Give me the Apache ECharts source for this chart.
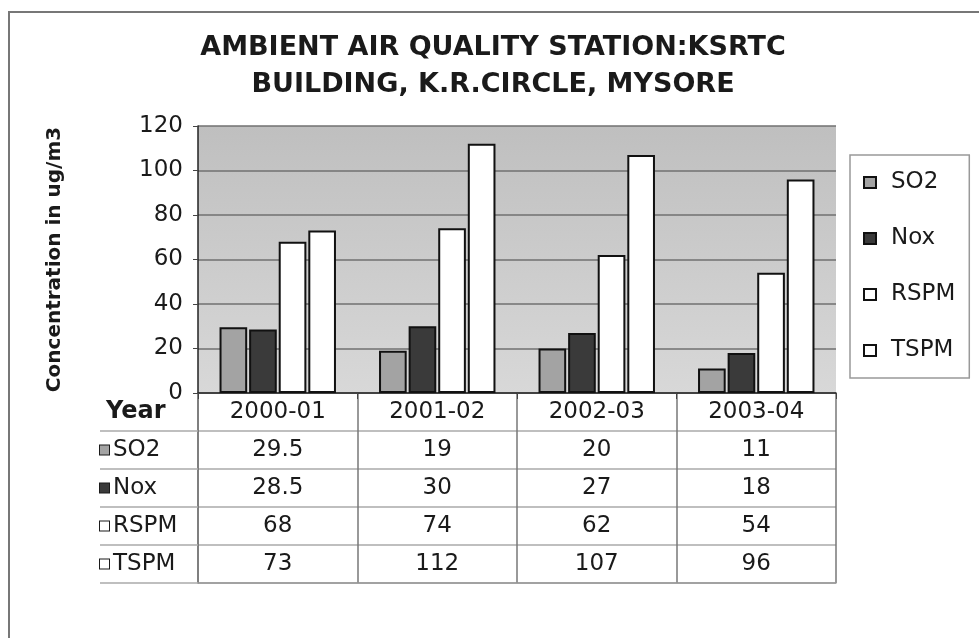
<!DOCTYPE html>
<html>
<head>
<meta charset="utf-8">
<title>Ambient Air Quality Station: KSRTC Building, K.R.Circle, Mysore</title>
<script src="https://cdn.jsdelivr.net/npm/echarts@6/dist/echarts.min.js"></script>
<style>
  html, body { margin: 0; padding: 0; background: #fff; }
  #chart { width: 979px; height: 638px; }
</style>
</head>
<body>
<div id="chart"></div>
<script>
var years = ["2000-01", "2001-02", "2002-03", "2003-04"];
var seriesNames = ["SO2", "Nox", "RSPM", "TSPM"];
var so2 = [29.5, 19, 20, 11];
var nox = [28.5, 30, 27, 18];
var rspm = [68, 74, 62, 54];
var tspm = [73, 112, 107, 96];
var rowLabels = ["Year", "SO2", "Nox", "RSPM", "TSPM"];
var yTicks = [0, 20, 40, 60, 80, 100, 120];

var font = "DejaVu Sans";
var ink = "#1a1a1a";
var fills = ["#a3a3a3", "#3a3a3a", "#ffffff", "#ffffff"];
var values = [so2, nox, rspm, tspm];

// cells of the data table: header row, then one row per pollutant
var cells = [];
years.forEach(function (y, i) {
  cells.push([i, 0, y]);
  values.forEach(function (arr, s) {
    cells.push([i, s + 1, arr[i]]);
  });
});

// rich styles for the little key boxes in the table row labels
var rowRich = {
  yr: { fontFamily: font, fontWeight: "bold", fontSize: 24, color: ink, padding: [0, 0, 0, 6] },
  t: { fontFamily: font, fontSize: 23, color: ink, padding: [0, 0, 0, 4] }
};
fills.forEach(function (c, i) {
  rowRich["k" + i] = { width: 9, height: 9, backgroundColor: c, borderColor: ink, borderWidth: 1 };
});

var chart = echarts.init(document.getElementById("chart"));

var barSeries = seriesNames.map(function (name, s) {
  return {
    name: name,
    type: "bar",
    xAxisIndex: 0,
    yAxisIndex: 0,
    barCategoryGap: "27%",
    barGap: "7%",
    itemStyle: { color: fills[s], borderColor: "#111", borderWidth: 2 },
    data: values[s]
  };
});

var option = {
  backgroundColor: "#fff",
  animation: false,
  title: {
    text: "AMBIENT AIR QUALITY STATION:KSRTC\nBUILDING, K.R.CIRCLE, MYSORE",
    left: 493,
    top: 29,
    padding: 0,
    textAlign: "center",
    textStyle: { fontFamily: font, fontWeight: "bold", fontSize: 27, lineHeight: 37, color: ink }
  },
  legend: {
    data: seriesNames,
    orient: "vertical",
    left: 850,
    top: 155,
    icon: "rect",
    itemWidth: 12,
    itemHeight: 11,
    itemGap: 33,
    padding: [16, 14, 16, 13],
    borderColor: "#999",
    borderWidth: 1.5,
    backgroundColor: "#fff",
    textStyle: { fontFamily: font, fontSize: 23, color: ink, padding: [0, 0, 0, 10] }
  },
  graphic: [
    {
      type: "rect",
      shape: { x: 9, y: 12, width: 1000, height: 700 },
      style: { fill: "none", stroke: "#777", lineWidth: 2 },
      silent: true
    }
  ],
  grid: [
    {
      left: 198, top: 126, width: 638, height: 267,
      show: true, borderWidth: 0,
      backgroundColor: new echarts.graphic.LinearGradient(0, 0, 0, 1, [
        { offset: 0, color: "#bfbfbf" },
        { offset: 1, color: "#d8d8d8" }
      ])
    },
    { left: 198, top: 393, width: 638, height: 190 }
  ],
  xAxis: [
    {
      gridIndex: 0,
      type: "category",
      data: years,
      axisLine: { lineStyle: { color: "#222", width: 1.5 } },
      axisTick: { show: true, length: 6, lineStyle: { color: "#444" } },
      axisLabel: { show: false }
    },
    {
      gridIndex: 1,
      type: "category",
      data: years,
      axisLine: { show: true, lineStyle: { color: "#999", width: 1.5 } },
      axisTick: { show: false },
      axisLabel: { show: false },
      splitLine: { show: true, lineStyle: { color: "#777", width: 1.5 } }
    }
  ],
  yAxis: [
    {
      gridIndex: 0,
      type: "value",
      min: yTicks[0],
      max: yTicks[yTicks.length - 1],
      interval: 20,
      name: "Concentration in ug/m3",
      nameLocation: "middle",
      nameGap: 133,
      nameTextStyle: { fontFamily: font, fontWeight: "bold", fontSize: 20, color: ink },
      axisLine: { show: true, lineStyle: { color: "#222", width: 1.5 } },
      axisTick: { show: true, length: 5, lineStyle: { color: "#444" } },
      axisLabel: { fontFamily: font, fontSize: 23, color: ink, margin: 15 },
      splitLine: { show: true, lineStyle: { color: "#707070", width: 1.5 } }
    },
    {
      gridIndex: 1,
      type: "category",
      data: rowLabels,
      inverse: true,
      axisLine: { show: true, lineStyle: { color: "#777", width: 1.5 } },
      axisTick: {
        show: true,
        length: 98,
        interval: function (index) { return index !== 0; },
        lineStyle: { color: "#aaa", width: 1.5 }
      },
      axisLabel: {
        align: "left",
        margin: 98,
        formatter: function (v, i) {
          if (i === 0) return "{yr|" + v + "}";
          return "{k" + (i - 1) + "|}{t|" + v + "}";
        },
        rich: rowRich
      },
      splitLine: { show: true, lineStyle: { color: "#aaa", width: 1.5 } }
    }
  ],
  series: barSeries.concat([
    {
      name: "table",
      type: "scatter",
      xAxisIndex: 1,
      yAxisIndex: 1,
      symbolSize: 1,
      silent: true,
      itemStyle: { color: "rgba(255,255,255,0)" },
      label: {
        show: true,
        position: "inside",
        opacity: 1,
        formatter: function (p) { return p.value[2]; },
        fontFamily: font,
        fontSize: 23,
        color: ink
      },
      data: cells
    }
  ])
};

chart.setOption(option);
</script>
</body>
</html>
